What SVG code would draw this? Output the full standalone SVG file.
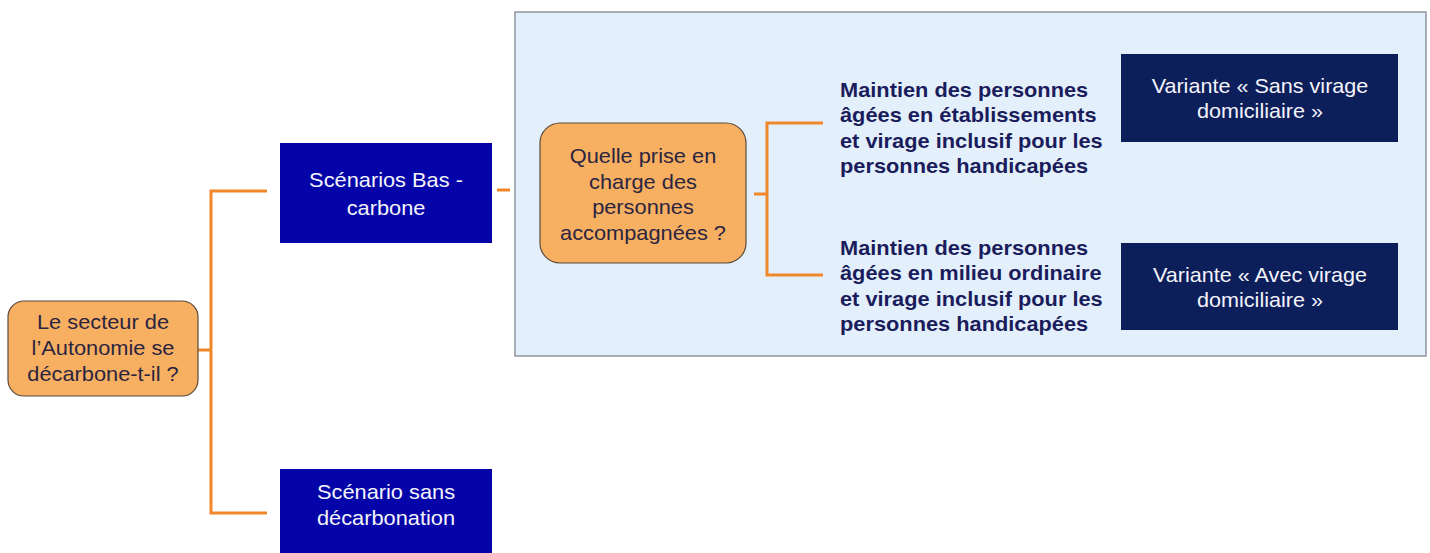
<svg xmlns="http://www.w3.org/2000/svg" width="1430" height="553" viewBox="0 0 1430 553">
<style>
.q{fill:#F7AF62;stroke:#5a4a3a;stroke-width:1.2}
.b{fill:#0404A8}
.v{fill:#0C1F5B}
.t{font-family:"Liberation Sans",Arial,sans-serif;font-size:20px;text-anchor:middle}
.dk{fill:#2B2540}
.w{fill:#F4F4FA}
.bl{font-family:"Liberation Sans",Arial,sans-serif;font-size:20px;font-weight:bold;fill:#1B1C5C}
.c{fill:none;stroke:#F0882A;stroke-width:3}
</style>
<rect width="1430" height="553" fill="#ffffff"/>
<g id="panel">
<rect x="515" y="12" width="911" height="344" fill="#E3F0FB" stroke="#8E959E" stroke-width="1.5"/>
</g>
<g id="connectors">
<path class="c" d="M198 350 H211 M267 191 H211 V513 H267"/>
<path class="c" d="M497 190 H510"/>
<path class="c" d="M754 194 H767 M823 123 H767 V275 H823"/>
</g>
<g id="n-root">
<rect class="q" x="8" y="301" width="190" height="95" rx="16"/>
<g transform="translate(103 0) scale(1.09 1)">
<text class="t dk" x="0" y="329">Le secteur de</text>
<text class="t dk" x="0" y="355">l’Autonomie se</text>
<text class="t dk" x="0" y="381">décarbone-t-il ?</text>
</g>
</g>
<g id="n-bas">
<rect class="b" x="280" y="143" width="212" height="100"/>
<g transform="translate(386 0) scale(1.09 1)">
<text class="t w" x="0" y="187">Scénarios Bas -</text>
<text class="t w" x="0" y="215">carbone</text>
</g>
</g>
<g id="n-sans">
<rect class="b" x="280" y="469" width="212" height="90"/>
<g transform="translate(386 0) scale(1.09 1)">
<text class="t w" x="0" y="499">Scénario sans</text>
<text class="t w" x="0" y="525">décarbonation</text>
</g>
</g>
<g id="n-quelle">
<rect class="q" x="540" y="123" width="206" height="140" rx="20"/>
<g transform="translate(643 0) scale(1.09 1)">
<text class="t dk" x="0" y="163">Quelle prise en</text>
<text class="t dk" x="0" y="189">charge des</text>
<text class="t dk" x="0" y="214">personnes</text>
<text class="t dk" x="0" y="240">accompagnées ?</text>
</g>
</g>
<g id="n-etab">
<g transform="translate(840 0) scale(1.09 1)">
<text class="bl" x="0" y="97">Maintien des personnes</text>
<text class="bl" x="0" y="122.5">âgées en établissements</text>
<text class="bl" x="0" y="148">et virage inclusif pour les</text>
<text class="bl" x="0" y="173.5">personnes handicapées</text>
</g>
</g>
<g id="n-ord">
<g transform="translate(840 0) scale(1.09 1)">
<text class="bl" x="0" y="255">Maintien des personnes</text>
<text class="bl" x="0" y="280.5">âgées en milieu ordinaire</text>
<text class="bl" x="0" y="306">et virage inclusif pour les</text>
<text class="bl" x="0" y="331.5">personnes handicapées</text>
</g>
</g>
<g id="n-var1">
<rect class="v" x="1121" y="54" width="277" height="88"/>
<g transform="translate(1260 0) scale(1.08 1)">
<text class="t w" x="0" y="93">Variante « Sans virage</text>
<text class="t w" x="0" y="118">domiciliaire »</text>
</g>
</g>
<g id="n-var2">
<rect class="v" x="1121" y="243" width="277" height="87"/>
<g transform="translate(1260 0) scale(1.08 1)">
<text class="t w" x="0" y="282">Variante « Avec virage</text>
<text class="t w" x="0" y="307">domiciliaire »</text>
</g>
</g>
</svg>
